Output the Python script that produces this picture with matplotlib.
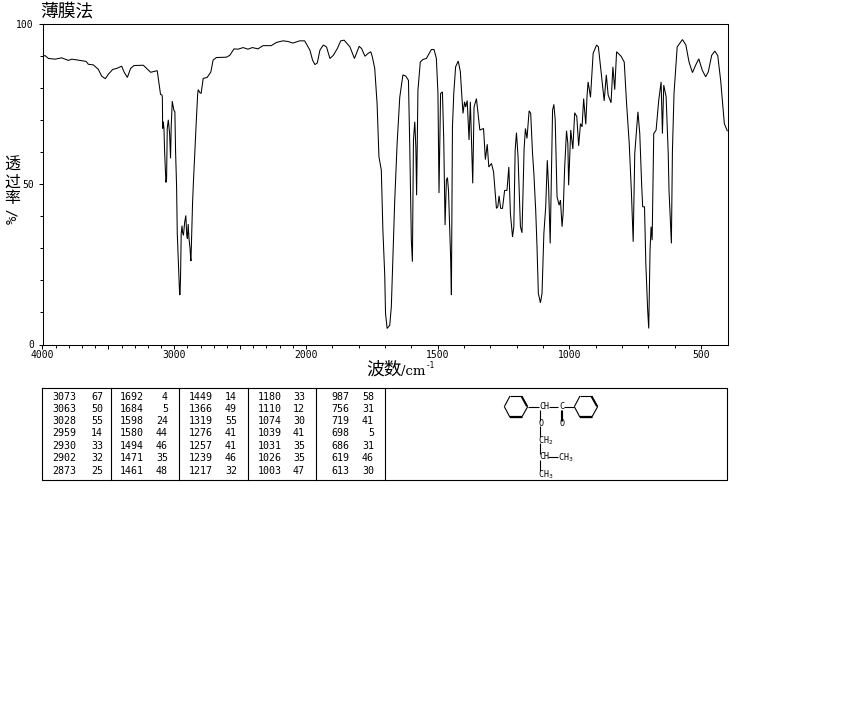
import numpy as np
import matplotlib
matplotlib.use('Agg')
import matplotlib.pyplot as plt
from matplotlib.ticker import FixedLocator, NullFormatter

CJK = ['Noto Sans CJK SC', 'DejaVu Sans']
MONO = 'DejaVu Sans Mono'

# spectrum: wavenumber / %T
wavenumber = [
    4000, 3980, 3955, 3904, 3854, 3803, 3778, 3715, 3669, 3652, 3614, 3576, 3551, 3523, 3500, 3467,
    3437, 3399, 3381, 3356, 3331, 3306, 3235, 3210, 3179, 3129, 3119, 3104, 3093, 3090, 3088, 3083,
    3078, 3073, 3066, 3063, 3058, 3053, 3045, 3035, 3028, 3023, 3015, 3003, 2995, 2990, 2982, 2977,
    2967, 2959, 2956, 2952, 2947, 2941, 2937, 2930, 2921, 2912, 2905, 2900, 2894, 2888, 2880, 2876,
    2873, 2869, 2861, 2855, 2843, 2831, 2822, 2818, 2806, 2796, 2780, 2750, 2722, 2705, 2680, 2604,
    2578, 2546, 2515, 2477, 2440, 2407, 2364, 2326, 2263, 2225, 2174, 2137, 2099, 2048, 2010,
    1985, 1975, 1966, 1957, 1947, 1934, 1922, 1909, 1896, 1881, 1868, 1855, 1833, 1816, 1798, 1789,
    1776, 1764, 1754, 1748, 1739, 1730, 1723, 1714, 1708, 1701, 1698, 1692, 1682, 1676, 1667, 1663,
    1654, 1644, 1632, 1621, 1611, 1606, 1600, 1596, 1592, 1587, 1583, 1580, 1575, 1566, 1556, 1543,
    1524, 1514, 1505, 1499, 1495, 1489, 1482, 1477, 1472, 1467, 1463, 1459, 1451, 1448, 1444, 1439,
    1432, 1422, 1414, 1409, 1404, 1398, 1394, 1388, 1381, 1376, 1367, 1362, 1353, 1340, 1326, 1319,
    1312, 1306, 1296, 1288, 1277, 1272, 1267, 1261, 1254, 1246, 1237, 1230, 1224, 1216, 1211, 1206,
    1201, 1195, 1186, 1180, 1172, 1167, 1161, 1153, 1147, 1140, 1135, 1128, 1123, 1118, 1110, 1104,
    1097, 1090, 1084, 1079, 1073, 1068, 1064, 1059, 1054, 1047, 1039, 1034, 1028, 1024, 1018, 1011,
    1006, 1003, 995, 987, 980, 972, 965, 958, 952, 946, 938, 933, 929, 920, 910, 897,
    890, 879, 868, 860, 853, 842, 835, 828, 821, 804, 792, 783, 773, 765, 758, 752,
    740, 733, 726, 722, 715, 710, 703, 699, 694, 690, 686, 680, 671, 661, 652, 647,
    642, 633, 625, 622, 613, 609, 603, 591, 571, 558, 546, 533, 521, 509, 496, 483,
    473, 460, 448, 437, 426, 412, 401,
]
transmittance = [
    89.8, 90.0, 89.1, 88.9, 89.3, 88.5, 88.9, 88.5, 88.2, 87.3, 87.1, 85.7, 83.6, 82.8, 84.2, 85.7,
    86.0, 86.7, 84.9, 83.2, 86.0, 86.9, 87.0, 86.0, 84.8, 85.3, 82.3, 77.9, 77.7, 77.0, 67.3, 69.4,
    67.3, 60.0, 53.0, 50.5, 51.7, 67.3, 70.0, 65.7, 58.0, 67.8, 75.8, 73.0, 72.5, 60.5, 49.0, 34.6,
    24.0, 15.5, 15.5, 21.0, 34.6, 37.0, 35.0, 34.0, 38.0, 40.2, 34.0, 33.0, 37.5, 33.0, 30.0, 27.0,
    26.0, 32.0, 43.9, 50.0, 60.5, 70.9, 78.0, 79.4, 78.5, 78.2, 82.9, 83.2, 84.9, 88.6, 89.4, 89.5,
    90.1, 92.1, 92.0, 92.5, 92.0, 92.5, 92.1, 93.1, 93.1, 94.1, 94.6, 94.4, 93.9, 94.6, 94.6,
    91.7, 88.6, 87.2, 87.7, 91.7, 93.3, 92.7, 89.1, 90.1, 92.2, 94.6, 94.8, 92.7, 89.1, 92.9, 92.2,
    89.8, 90.7, 91.2, 89.6, 86.0, 75.0, 58.5, 54.3, 35.6, 21.6, 9.7, 5.0, 6.0, 11.7, 34.6, 45.0,
    62.6, 77.0, 84.0, 83.6, 82.3, 61.6, 32.5, 25.8, 63.7, 69.4, 61.6, 46.5, 79.2, 88.0, 88.8, 89.1,
    91.9, 91.9, 89.1, 78.2, 47.2, 78.2, 78.7, 63.7, 37.2, 51.2, 52.0, 48.0, 27.3, 15.4, 67.8, 78.2,
    86.5, 88.3, 85.0, 78.2, 72.0, 75.6, 74.0, 76.0, 63.7, 75.6, 50.2, 74.0, 76.6, 66.8, 67.3, 57.6,
    62.4, 55.3, 56.4, 53.8, 42.4, 42.9, 46.3, 42.4, 42.4, 48.0, 48.0, 55.3, 40.8, 33.5, 36.7, 60.5,
    66.0, 58.5, 36.7, 34.8, 61.0, 67.3, 64.2, 72.8, 72.0, 59.5, 53.3, 41.8, 30.4, 15.9, 13.0, 15.9,
    34.6, 42.9, 57.4, 49.0, 31.5, 55.3, 73.0, 74.8, 70.0, 46.0, 43.4, 45.0, 36.7, 40.8, 55.3, 66.6,
    62.6, 49.6, 66.8, 60.9, 72.2, 71.0, 61.9, 68.8, 67.8, 76.6, 68.6, 77.7, 81.8, 77.0, 90.7, 93.3,
    92.7, 84.4, 75.9, 84.0, 77.7, 75.3, 86.5, 79.4, 91.2, 89.8, 88.0, 75.0, 62.6, 48.0, 32.0, 59.5,
    72.5, 65.7, 50.2, 42.9, 42.9, 25.2, 10.7, 5.0, 29.4, 36.7, 32.5, 65.7, 66.8, 76.1, 81.8, 65.7,
    80.8, 77.2, 59.5, 48.0, 31.5, 60.5, 78.2, 92.7, 95.0, 93.3, 88.0, 84.7, 87.0, 89.0, 85.5, 83.4,
    84.9, 90.1, 91.4, 90.0, 82.3, 68.8, 66.6,
]

# peak table, five columns
peak_wn = [
    ['3073', '3063', '3028', '2959', '2930', '2902', '2873'],
    ['1692', '1684', '1598', '1580', '1494', '1471', '1461'],
    ['1449', '1366', '1319', '1276', '1257', '1239', '1217'],
    ['1180', '1110', '1074', '1039', '1031', '1026', '1003'],
    ['987', '756', '719', '698', '686', '619', '613'],
]
peak_t = [
    ['67', '50', '55', '14', '33', '32', '25'],
    ['4', '5', '24', '44', '46', '35', '48'],
    ['14', '49', '55', '41', '41', '46', '32'],
    ['33', '12', '30', '41', '35', '35', '47'],
    ['58', '31', '41', '5', '31', '46', '30'],
]


# wavenumber axis is stretched by two below 2000
def forward(x):
    x = np.asarray(x, dtype=float)
    return np.where(x > 2000, 2000 + (x - 2000) / 2, x)


def inverse(y):
    y = np.asarray(y, dtype=float)
    return np.where(y > 2000, 2000 + (y - 2000) * 2, y)


W, H = 850, 709
fig = plt.figure(figsize=(W / 100, H / 100), dpi=100)
fig.patch.set_facecolor('white')

ax = fig.add_axes([42.5 / W, 1 - 344.5 / H, 685 / W, 321 / H])
ax.plot(wavenumber, transmittance, color='black', lw=0.75, solid_joinstyle='miter')
ax.set_xscale('function', functions=(forward, inverse))
ax.set_xlim(4000, 400)
ax.set_ylim(0, 100)

ax.xaxis.set_major_locator(FixedLocator([4000, 3500, 3000, 2500, 2000, 1500, 1000, 500]))
ax.xaxis.set_major_formatter(plt.FixedFormatter(['4000', '', '3000', '', '2000', '1500', '1000', '500']))
ax.xaxis.set_minor_locator(FixedLocator(list(range(3900, 400, -100))))
ax.xaxis.set_minor_formatter(NullFormatter())
ax.yaxis.set_major_locator(FixedLocator([0, 50, 100]))
ax.yaxis.set_minor_locator(FixedLocator(list(range(10, 100, 10))))
ax.yaxis.set_minor_formatter(NullFormatter())
ax.tick_params(axis='x', which='major', length=3, width=0.7, labelsize=7, pad=1)
ax.tick_params(axis='y', which='major', length=3.2, width=0.7, labelsize=7, pad=3)
ax.tick_params(axis='both', which='minor', length=2, width=0.7)
for lab in ax.get_xticklabels() + ax.get_yticklabels():
    lab.set_family(MONO)
for s in ax.spines.values():
    s.set_linewidth(0.75)

# overlay in pixel coordinates for labels, table and structure
ov = fig.add_axes([0, 0, 1, 1], facecolor='none')
ov.set_xlim(0, W)
ov.set_ylim(H, 0)
ov.axis('off')

ov.text(40, 11.5, '薄膜法', family=CJK, fontsize=12.8, ha='left', va='center')
for ch, yy in zip(['透', '过', '率'], [165, 182, 198]):
    ov.text(12.5, yy, ch, family=CJK, fontsize=11.5, ha='center', va='center')
ov.text(12.5, 216, '%/', family='DejaVu Sans Mono', fontsize=10, rotation=90, ha='center', va='center')
ov.text(366, 370, '波数', family=CJK, fontsize=12.8, ha='left', va='center')
ov.text(401, 371, '/cm', family='DejaVu Serif', fontsize=9.5, ha='left', va='center')
ov.text(426, 365.5, '-1', family=MONO, fontsize=5.5, ha='left', va='center')

# table frame
tb_l, tb_r, tb_t, tb_b = 42.5, 727.5, 387.5, 479.5
ov.plot([tb_l, tb_r, tb_r, tb_l, tb_l], [tb_t, tb_t, tb_b, tb_b, tb_t], color='black', lw=0.8)
for xd in [111.5, 179.5, 248.5, 316.5, 385.5]:
    ov.plot([xd, xd], [tb_t, tb_b], color='black', lw=0.8)

wn_right = [76, 144, 213, 282, 349]
t_right = [103, 168, 237, 305, 374]
row_y = [396.7, 408.7, 421.3, 433.3, 446, 458.3, 471]
for c in range(5):
    for r in range(7):
        ov.text(wn_right[c], row_y[r], peak_wn[c][r], family=MONO, fontsize=7.2, ha='right', va='center')
        ov.text(t_right[c], row_y[r], peak_t[c][r], family=MONO, fontsize=7.2, ha='right', va='center')


def z(px, py):
    # structure sketch was measured on a 3x crop
    return 380 + px / 3, 380 + py / 3


def bond(x0, y0, x1, y1, lw=0.8):
    a, b = z(x0, y0), z(x1, y1)
    ov.plot([a[0], b[0]], [a[1], b[1]], color='black', lw=lw, solid_capstyle='butt')


def ring(cx):
    pts = [(cx - 35, 80), (cx - 18, 48), (cx + 17, 48), (cx + 35, 80), (cx + 17, 112), (cx - 18, 112), (cx - 35, 80)]
    for p, q in zip(pts[:-1], pts[1:]):
        bond(p[0], p[1], q[0], q[1])
    bond(cx - 18, 112, cx + 17, 112, lw=1.6)
    bond(cx + 17, 50, cx + 33, 79, lw=1.4)


ring(408)
ring(618)
bond(443, 80, 476, 80)
bond(507, 80, 535, 80)
bond(553, 80, 583, 80)
bond(542, 90, 542, 122)
bond(547, 90, 547, 122)
bond(481, 90, 481, 122)
bond(481, 138, 481, 172)
bond(481, 190, 481, 222)
bond(505, 231, 535, 231)
bond(481, 240, 481, 272)

atoms = [('CH', 492, 80), ('C', 545, 80), ('O', 545, 130), ('O', 483, 130),
         ('CH$_2$', 497, 181), ('CH', 492, 230), ('CH$_3$', 558, 232), ('CH$_3$', 497, 284)]
for txt, ax_x, ax_y in atoms:
    px, py = z(ax_x, ax_y)
    ov.text(px, py, txt, family=MONO, fontsize=6, ha='center', va='center',
            math_fontfamily='dejavusans')

fig.savefig('out.png', dpi=100, facecolor='white')
